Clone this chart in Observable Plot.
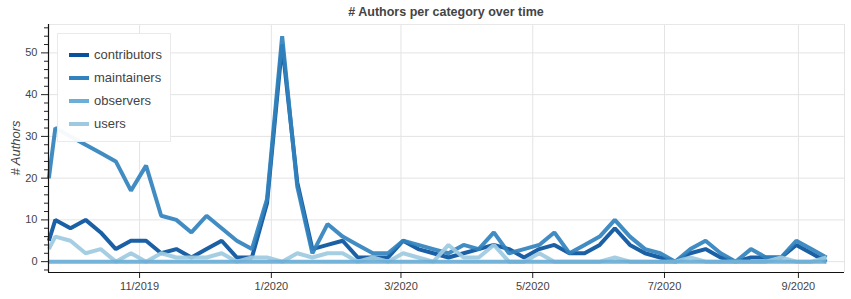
<!DOCTYPE html>
<html>
<head>
<meta charset="utf-8">
<script src="https://cdn.jsdelivr.net/npm/d3@7"></script>
<script src="https://cdn.jsdelivr.net/npm/@observablehq/plot@0.6"></script>
<style>
  body { margin: 0; background: #fff; font-family: "Liberation Sans", Arial, sans-serif; }
  #wrap { position: relative; width: 851px; height: 299px; }
  #title { height: 22px; line-height: 24px; text-align: center; padding-left: 41px; font-weight: bold; font-size: 12.5px; color: #444; }
  #legend { position: absolute; left: 57px; top: 33px; width: 114px; height: 109px; box-sizing: border-box;
            background: rgba(255,255,255,0.95); border: 1px solid #eaeaea; padding-top: 9px; }
  .item { height: 23px; display: flex; align-items: center; font-size: 13px; color: #444; }
  .sw { width: 20px; height: 4px; margin-left: 11px; margin-right: 5px; }
  #ylabel { position: absolute; left: 15px; top: 148px; transform: translate(-50%, -50%) rotate(-90deg);
            font-style: italic; font-size: 13px; color: #444; white-space: nowrap; }
</style>
</head>
<body>
<div id="wrap">
  <div id="title"># Authors per category over time</div>
  <div id="chart"></div>
  <div id="legend"></div>
  <div id="ylabel"># Authors</div>
</div>
<script>
const dates = ["2019-09-20","2019-09-23","2019-09-30","2019-10-07","2019-10-14","2019-10-21","2019-10-28",
  "2019-11-04","2019-11-11","2019-11-18","2019-11-25","2019-12-02","2019-12-09","2019-12-16","2019-12-23","2019-12-30",
  "2020-01-06","2020-01-13","2020-01-20","2020-01-27","2020-02-03","2020-02-10","2020-02-17","2020-02-24",
  "2020-03-02","2020-03-09","2020-03-16","2020-03-23","2020-03-30","2020-04-06","2020-04-13","2020-04-20","2020-04-27",
  "2020-05-04","2020-05-11","2020-05-18","2020-05-25","2020-06-01","2020-06-08","2020-06-15","2020-06-22","2020-06-29",
  "2020-07-06","2020-07-13","2020-07-20","2020-07-27","2020-08-03","2020-08-10","2020-08-17","2020-08-24","2020-08-31",
  "2020-09-07","2020-09-14"];
const contributors = [5,10,8,10,7,3,5, 5,2,3,1, 3,5,1,1,14, 52,19,3,4, 5,1,1,1, 5,3,2,1,2, 3,4,3,1, 3,4,2,2, 4,8,4,2,1, 0,2,3,1, 0,1,1,1,4, 2,0];
const maintainers  = [20,32,30,28,26,24,17, 23,11,10,7, 11,8,5,3,15, 54,18,2,9, 6,4,2,2, 5,4,3,2,4, 3,7,2,3, 4,7,2,4, 6,10,6,3,2, 0,3,5,2, 0,3,1,1,5, 3,1];
const observers    = [0,0,0,0,0,0,0, 0,0,0,0, 0,0,0,0,0, 0,0,0,0, 0,0,0,0, 0,0,0,0,0, 0,0,0,0, 0,0,0,0, 0,0,0,0,0, 0,0,0,0, 0,0,0,0,0, 0,0];
const users        = [3,6,5,2,3,0,2, 0,2,1,1, 1,2,0,1,1, 0,2,1,2, 2,0,1,0, 2,1,0,4,1, 1,4,0,0, 2,0,0,0, 0,1,0,0,0, 0,1,0,0, 0,0,0,1,0, 0,1];
const seriesNames = ["contributors", "maintainers", "observers", "users"];
const seriesColors = ["#08519c", "#3182bd", "#6baed6", "#9ecae1"];
const xTicks = ["2019-11-01","2020-01-01","2020-03-01","2020-05-01","2020-07-01","2020-09-01"];
const yTicks = [0, 10, 20, 30, 40, 50];
const yMinorTicks = [-2,2,4,6,8,12,14,16,18,22,24,26,28,32,34,36,38,42,44,46,48,52,54,56];
const xDomain = ["2019-09-19T20:00:00Z", "2020-09-22T08:00:00Z"];
const yDomain = [-2.6, 56.8];

const seriesValues = [contributors, maintainers, observers, users];
const drawOrder = ["contributors", "maintainers", "users", "observers"];
const rows = [];
drawOrder.forEach(name => {
  const vals = seriesValues[seriesNames.indexOf(name)];
  dates.forEach((d, i) => rows.push({date: new Date(d), value: vals[i], series: name}));
});
const xt = xTicks.map(d => new Date(d));
const xd = xDomain.map(d => new Date(d));

const chart = Plot.plot({
  width: 851,
  height: 277,
  marginTop: 2,
  marginLeft: 48,
  marginRight: 7,
  marginBottom: 27,
  style: {fontFamily: '"Liberation Sans", Arial, sans-serif', fontSize: "11px", color: "#444", background: "#fff"},
  x: {type: "utc", domain: xd},
  y: {domain: yDomain},
  color: {domain: seriesNames, range: seriesColors},
  marks: [
    Plot.gridY(yTicks, {stroke: "#e4e4e4", strokeOpacity: 1}),
    Plot.gridX(xt, {stroke: "#e4e4e4", strokeOpacity: 1}),
    Plot.ruleY([yDomain[1]], {stroke: "#e8e8e8"}),
    Plot.ruleX([xd[1]], {stroke: "#e4e4e4"}),
    Plot.lineY(rows, {x: "date", y: "value", z: "series", stroke: "series", strokeWidth: 4, strokeOpacity: 0.92, strokeLinejoin: "miter", strokeLinecap: "butt"}),
    Plot.axisY({ticks: yMinorTicks, tickSize: 4, text: null, label: null, stroke: "#222"}),
    Plot.axisY({ticks: yTicks, tickSize: 7, tickPadding: 4, label: null, stroke: "#222", fill: "#444"}),
    Plot.axisX({ticks: xt, tickSize: 6, tickPadding: 4, tickFormat: d3.utcFormat("%-m/%Y"), label: null, stroke: "#222", fill: "#444"}),
    Plot.ruleY([yDomain[0]], {stroke: "#111", strokeWidth: 1.2}),
    Plot.ruleX([xd[0]], {stroke: "#111", strokeWidth: 1.2})
  ]
});
document.getElementById("chart").appendChild(chart);

const legend = document.getElementById("legend");
seriesNames.forEach((name, i) => {
  const item = document.createElement("div");
  item.className = "item";
  const sw = document.createElement("div");
  sw.className = "sw";
  sw.style.background = seriesColors[i];
  const label = document.createElement("span");
  label.textContent = name;
  item.appendChild(sw);
  item.appendChild(label);
  legend.appendChild(item);
});
</script>
</body>
</html>
